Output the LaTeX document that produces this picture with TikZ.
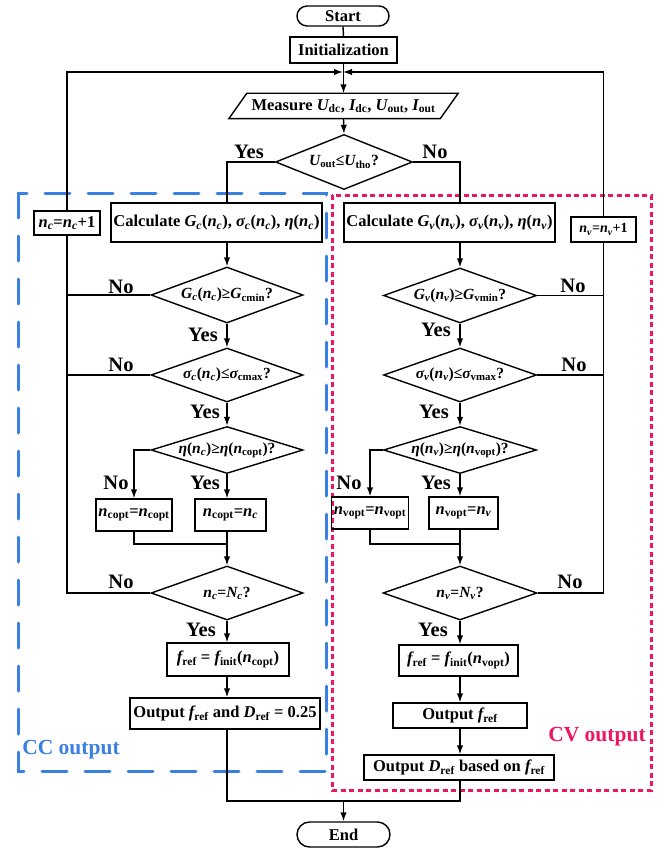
\documentclass[tikz,border=0pt]{standalone}
\usepackage{fontspec}
\setmainfont{Liberation Serif}
\usetikzlibrary{shapes.geometric,shapes.misc,arrows.meta,calc}
\newcommand\vi[1]{{\bfseries\itshape #1}}
\newcommand\sbu[1]{\textsubscript{\bfseries\upshape #1}}
\newcommand\sbi[1]{\textsubscript{\bfseries\itshape #1}}
\definecolor{ccblue}{HTML}{3A7FE3}
\definecolor{cvpink}{HTML}{EC1763}
\begin{document}
\begin{tikzpicture}[x=1pt,y=-1pt, line width=1.4pt,
  box/.style={draw, rectangle, inner sep=0pt, font=\fontsize{16.5}{18}\selectfont\bfseries},
  sbox/.style={box, font=\fontsize{14}{16}\selectfont\bfseries},
  dia/.style={draw, diamond, inner sep=0pt},
  dtext/.style={font=\fontsize{15.5}{17}\selectfont\bfseries, inner sep=0pt},
  term/.style={draw, rounded rectangle, inner sep=0pt, font=\fontsize{16.5}{18}\selectfont\bfseries},
  lbl/.style={font=\fontsize{20.5}{22}\selectfont\bfseries, inner sep=0pt},
  grp/.style={font=\fontsize{21.5}{23}\selectfont\bfseries, inner sep=0pt},
  arr/.style={-{Latex[length=9pt,width=6.5pt]}},
]
\useasboundingbox (0,0) rectangle (669,848);
% group frames
\draw[ccblue, line width=3pt, dash pattern=on 25pt off 18pt, line cap=round] (18,193) rectangle (326,771);
\draw[cvpink, line width=3pt, dash pattern=on 5pt off 3.5pt] (332,195) rectangle (651,790);
\node[grp, text=ccblue] (cct) at (71,750) {CC output};
\node[grp, text=cvpink] (cvt) at (597,737) {CV output};

% main nodes
\node[term, minimum width=92pt, minimum height=20pt] (start) at (343,16) {Start};
\node[box, minimum width=107pt, minimum height=26pt] (init) at (343.5,50) {Initialization};
\node[inner sep=0pt, minimum width=210pt, minimum height=24pt, font=\fontsize{16.5}{18}\selectfont\bfseries] (meas) at (343.5,106)
  {Measure \vi{U}\sbu{dc}, \vi{I}\sbu{dc}, \vi{U}\sbu{out}, \vi{I}\sbu{out}};
\draw ($(meas.south west)+(-9,0)$) -- ($(meas.north west)+(9,0)$) -- ($(meas.north east)+(9,0)$) -- ($(meas.south east)+(-9,0)$) -- cycle;
\node[dia, minimum width=137pt, minimum height=55pt] (d0) at (344,162) {};
\node[dtext] at (d0) {\vi{U}\sbu{out}≤\vi{U}\sbu{tho}?};

% CC column
\node[box, minimum width=211pt, minimum height=39pt] (calcC) at (216.5,222.5)
  {Calculate \vi{G}\sbi{c}(\vi{n}\sbi{c}), \vi{σ}\sbi{c}(\vi{n}\sbi{c}), \vi{η}(\vi{n}\sbi{c})};
\node[box, minimum width=66pt, minimum height=24pt] (incC) at (67,223) {\vi{n}\sbi{c}=\vi{n}\sbi{c}+1};
\node[dia, minimum width=152pt, minimum height=56pt] (dc1) at (227,295) {};
\node[dtext] at (dc1) {\vi{G}\sbi{c}(\vi{n}\sbi{c})≥\vi{G}\sbu{cmin}?};
\node[dia, minimum width=152pt, minimum height=54pt] (dc2) at (227,375) {};
\node[dtext] at (dc2) {\vi{σ}\sbi{c}(\vi{n}\sbi{c})≤\vi{σ}\sbu{cmax}?};
\node[dia, minimum width=152pt, minimum height=47pt] (dc3) at (227,450) {};
\node[dtext] at (dc3) {\vi{η}(\vi{n}\sbi{c})≥\vi{η}(\vi{n}\sbu{copt})?};
\node[box, minimum width=76pt, minimum height=32pt] (cC1) at (134,515) {\vi{n}\sbu{copt}=\vi{n}\sbu{copt}};
\node[box, minimum width=71pt, minimum height=32pt] (cC2) at (230.5,515) {\vi{n}\sbu{copt}=\vi{n}\sbi{c}};
\node[dia, minimum width=152pt, minimum height=54pt] (dc4) at (227,593) {};
\node[dtext] at (dc4) {\vi{n}\sbi{c}=\vi{N}\sbi{c}?};
\node[box, minimum width=122pt, minimum height=33pt] (frefC) at (228,659.5) {\vi{f}\sbu{ref} = \vi{f}\sbu{init}(\vi{n}\sbu{copt})};
\node[box, minimum width=190pt, minimum height=31pt] (outC) at (225,713.5) {Output \vi{f}\sbu{ref} and \vi{D}\sbu{ref} = 0.25};

% CV column
\node[box, minimum width=211pt, minimum height=39pt] (calcV) at (449.5,222.5)
  {Calculate \vi{G}\sbi{v}(\vi{n}\sbi{v}), \vi{σ}\sbi{v}(\vi{n}\sbi{v}), \vi{η}(\vi{n}\sbi{v})};
\node[sbox, minimum width=65pt, minimum height=25pt] (incV) at (603.5,229.5) {\vi{n}\sbi{v}=\vi{n}\sbi{v}+1};
\node[dia, minimum width=153pt, minimum height=55pt] (dv1) at (460,295.5) {};
\node[dtext] at (dv1) {\vi{G}\sbi{v}(\vi{n}\sbi{v})≥\vi{G}\sbu{vmin}?};
\node[dia, minimum width=153pt, minimum height=54pt] (dv2) at (460,375) {};
\node[dtext] at (dv2) {\vi{σ}\sbi{v}(\vi{n}\sbi{v})≤\vi{σ}\sbu{vmax}?};
\node[dia, minimum width=153pt, minimum height=47pt] (dv3) at (460,450) {};
\node[dtext] at (dv3) {\vi{η}(\vi{n}\sbi{v})≥\vi{η}(\vi{n}\sbu{vopt})?};
\node[box, minimum width=77pt, minimum height=32pt] (vC1) at (370,513) {\vi{n}\sbu{vopt}=\vi{n}\sbu{vopt}};
\node[box, minimum width=69pt, minimum height=32pt] (vC2) at (463.5,513) {\vi{n}\sbu{vopt}=\vi{n}\sbi{v}};
\node[dia, minimum width=154pt, minimum height=54pt] (dv4) at (460,593) {};
\node[dtext] at (dv4) {\vi{n}\sbi{v}=\vi{N}\sbi{v}?};
\node[box, minimum width=119pt, minimum height=31pt] (frefV) at (458.5,660.5) {\vi{f}\sbu{ref} = \vi{f}\sbu{init}(\vi{n}\sbu{vopt})};
\node[box, minimum width=134pt, minimum height=25pt] (outV1) at (460,715.5) {Output \vi{f}\sbu{ref}};
\node[box, minimum width=190pt, minimum height=25pt] (outV2) at (459,767.5) {Output \vi{D}\sbu{ref} based on \vi{f}\sbu{ref}};

\node[term, minimum width=93pt, minimum height=25pt] (end) at (343.5,834.5) {End};

% coordinates
\coordinate (jn) at (343,72);
\coordinate (mc) at (227,544);
\coordinate (mv) at (460,544);
\coordinate (botL) at (227,801);
\coordinate (botR) at (460,801);
\coordinate (bot) at (343.5,801);

% connectors main
\draw (start.south) -- (init.north);
\draw[arr] (init.south) -- (meas.north);
\draw[arr] (meas.south) -- (d0.north);
\draw[arr] (incC.north) |- (jn);
\draw[arr] (incV.north) |- (jn);
\draw (d0.west) -| (dc1 |- calcC.north);
\draw (d0.east) -| (dv1 |- calcV.north);

% CC connectors
\draw[arr] (dc1 |- calcC.south) -- (dc1.north);
\draw[arr] (dc1.south) -- (dc2.north);
\draw[arr] (dc2.south) -- (dc3.north);
\draw[arr] (dc3.west) -| (cC1.north);
\draw[arr] (dc3.south) -- (dc3 |- cC2.north);
\draw (cC1.south) |- (mc);
\draw (dc3 |- cC2.south) -- (mc);
\draw[arr] (mc) -- (dc4.north);
\draw[arr] (dc4.south) -- (dc4 |- frefC.north);
\draw[arr] (dc4 |- frefC.south) -- (dc4 |- outC.north);
\draw (dc4.west) -| (incC.south);
\draw (dc1.west) -- (dc1.west -| incC.south);
\draw (dc2.west) -- (dc2.west -| incC.south);

% CV connectors
\draw[arr] (dv1 |- calcV.south) -- (dv1.north);
\draw[arr] (dv1.south) -- (dv2.north);
\draw[arr] (dv2.south) -- (dv3.north);
\draw[arr] (dv3.west) -| (vC1.north);
\draw[arr] (dv3.south) -- (dv3 |- vC2.north);
\draw (vC1.south) |- (mv);
\draw (dv3 |- vC2.south) -- (mv);
\draw[arr] (mv) -- (dv4.north);
\draw[arr] (dv4.south) -- (dv4 |- frefV.north);
\draw[arr] (dv4 |- frefV.south) -- (dv4 |- outV1.north);
\draw[arr] (dv4 |- outV1.south) -- (dv4 |- outV2.north);
\draw (dv4.east) -| (incV.south);
\draw (dv1.east) -- (dv1.east -| incV.south);
\draw (dv2.east) -- (dv2.east -| incV.south);

% bottom
\draw (dc4 |- outC.south) -- (botL) -- (botR) -- (dv4 |- outV2.south);
\draw[arr] (bot) -- (end.north);

% labels
\node[lbl] (y0) at (249,152) {Yes};
\node[lbl] (n0) at (435,152) {No};
\node[lbl] (nc1) at (121,287) {No};
\node[lbl] (yc1) at (203,335) {Yes};
\node[lbl] (nc2) at (121,365) {No};
\node[lbl] (yc2) at (205,412) {Yes};
\node[lbl] (nc3) at (116,483) {No};
\node[lbl] (yc3) at (205,483) {Yes};
\node[lbl] (nc4) at (121,582) {No};
\node[lbl] (yc4) at (201,630) {Yes};
\node[lbl] (nv1) at (573,286) {No};
\node[lbl] (yv1) at (436,330) {Yes};
\node[lbl] (nv2) at (574,365) {No};
\node[lbl] (yv2) at (434,412) {Yes};
\node[lbl] (nv3) at (349,483) {No};
\node[lbl] (yv3) at (436,483) {Yes};
\node[lbl] (nv4) at (570,582) {No};
\node[lbl] (yv4) at (433,630) {Yes};
\end{tikzpicture}
\end{document}
